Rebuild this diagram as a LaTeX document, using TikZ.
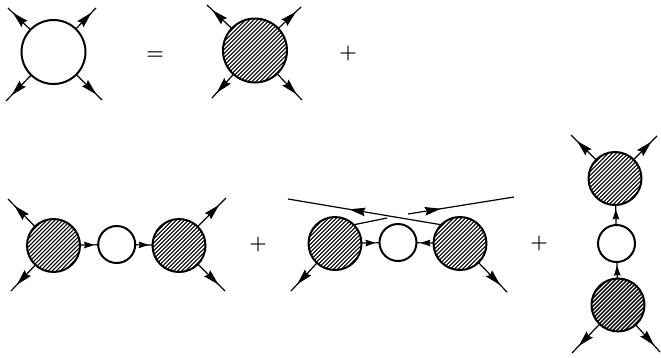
\documentclass[tikz,border=0pt]{standalone}
\usetikzlibrary{arrows.meta,decorations.markings}
\tikzset{
  blob/.style={circle,draw=black,line width=2pt,inner sep=0pt,minimum size=#1,outer sep=0pt},
  hatched/.style={path picture={
    \begin{scope}[shift={(path picture bounding box.center)}]
      \foreach \d in {-72,-68,...,72}{\draw[line width=#1] (-40+\d,40) -- (40+\d,-40);}
    \end{scope}}},
  leg/.style={line width=1.2pt,decoration={markings,mark=at position #1 with {\arrow{Stealth[length=16pt,width=8.5pt,inset=2pt]}}},postaction={decorate}},
  leg/.default=0.78,
  link/.style={line width=1.2pt,decoration={markings,mark=at position #1 with {\arrow{Stealth[length=10pt,width=6.5pt,inset=1pt]}}},postaction={decorate}},
  link/.default=0.78,
  plain/.style={line width=1.2pt},
  sign/.style={inner sep=0pt,font=\fontsize{20}{20}\selectfont\bfseries},
}
\begin{document}
\begin{tikzpicture}[x=1pt,y=-1pt]
\useasboundingbox (0,0) rectangle (661,357);
% top row
\node[blob=64pt] (a) at (53.5,52) {};
\coordinate (a1) at (8,8); \coordinate (a2) at (96,8); \coordinate (a3) at (6,101); \coordinate (a4) at (102,100);
\foreach \e in {a1,a2,a3,a4}{\draw[leg] (a) -- (\e);}
\node[sign] (eq) at (155,55.5) {=};
\node[blob=64pt,hatched=1.05pt] (b) at (255,50.5) {};
\coordinate (b1) at (207,5); \coordinate (b2) at (301,7); \coordinate (b3) at (212,98); \coordinate (b4) at (302,100);
\foreach \e in {b1,b2,b3,b4}{\draw[leg] (b) -- (\e);}
\node[sign] (p1) at (348,54) {+};
% bottom left
\node[blob=53pt,hatched=1.05pt] (c) at (53.5,245.5) {};
\node[blob=37pt] (d) at (116.7,244.5) {};
\node[blob=53pt,hatched=1.05pt] (e) at (179,245.5) {};
\coordinate (c1) at (8,199); \coordinate (c3) at (11,291);
\coordinate (e2) at (226,198); \coordinate (e4) at (225,291);
\draw[leg=0.76] (c) -- (c1); \draw[leg=0.76] (c) -- (c3);
\draw[leg=0.76] (e) -- (e2); \draw[leg=0.76] (e) -- (e4);
\draw[link] (c) -- (d); \draw[link] (d) -- (e);
\node[sign] (p2) at (258,245) {+};
% bottom middle
\node[blob=53pt,hatched=1.05pt] (f) at (335,243.5) {};
\node[blob=37pt] (g) at (398,242.5) {};
\node[blob=53pt,hatched=1.05pt] (h) at (460,243.5) {};
\coordinate (f3) at (291,291); \coordinate (h4) at (507,292);
\coordinate (x1) at (288,199); \coordinate (x2) at (514,197); \coordinate (x3) at (408,214); \coordinate (x4) at (387,218);
\draw[leg=0.76] (f) -- (f3); \draw[leg=0.76] (h) -- (h4);
\draw[link] (f) -- (g); \draw[link] (h) -- (g);
\draw[leg=0.6] (h.135) -- (x1);
\draw[leg=0.31] (x3) -- (x2);
\draw[plain] (f.45) -- (x4);
\node[sign] (p3) at (539,244) {+};
% right column
\node[blob=53pt,hatched=1.05pt] (i) at (615,178.5) {};
\node[blob=37pt] (j) at (616.5,243.5) {};
\node[blob=53pt,hatched=1.4pt] (k) at (618,305) {};
\coordinate (i1) at (571,135); \coordinate (i2) at (657,136);
\coordinate (k3) at (572,353); \coordinate (k4) at (660,352);
\draw[leg=0.76] (i) -- (i1); \draw[leg=0.76] (i) -- (i2);
\draw[leg=0.76] (k) -- (k3); \draw[leg=0.76] (k) -- (k4);
\draw[link] (j) -- (i); \draw[link] (k) -- (j);
\end{tikzpicture}
\end{document}
